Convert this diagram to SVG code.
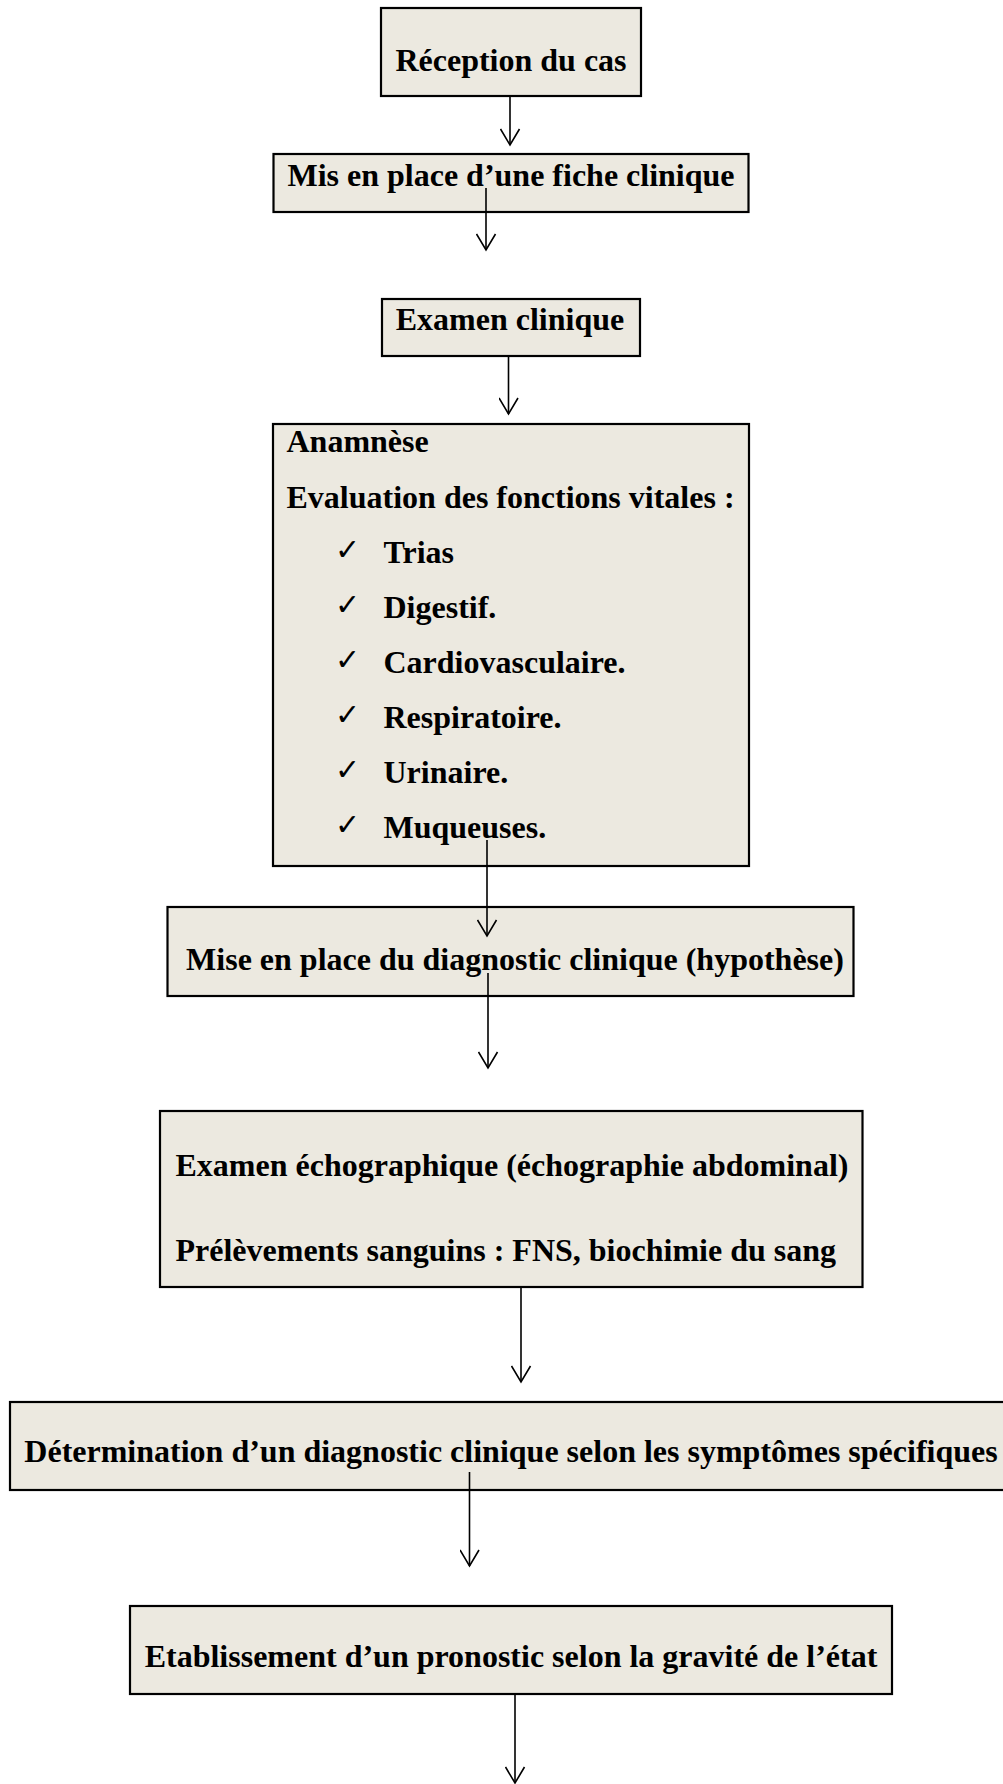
<svg xmlns="http://www.w3.org/2000/svg" width="1003" height="1784" viewBox="0 0 1003 1784">
<defs>
<style>
.box{fill:#ECE9E0;stroke:#000;stroke-width:2.2}
.t{font-family:"Liberation Serif","Times New Roman",serif;font-weight:bold;font-size:32px;fill:#000}
.c{text-anchor:middle}
.chk{font-family:"DejaVu Sans",sans-serif;font-size:30px;fill:#000}
.ln{stroke:#000;stroke-width:1.6;fill:none}
</style>
<marker id="arr" markerWidth="24" markerHeight="20" refX="10" refY="17" orient="0" markerUnits="userSpaceOnUse" viewBox="0 0 24 20">
<path d="M0.5,1 L10,17 L19.5,1" fill="none" stroke="#000" stroke-width="1.6"/>
</marker>
</defs>
<rect width="1003" height="1784" fill="#fff"/>
<g id="n1"><rect class="box" x="381" y="8" width="260" height="88"/><text class="t c" x="511" y="71">Réception du cas</text></g>
<g id="n2"><rect class="box" x="273.5" y="154" width="475" height="58"/><text class="t c" x="511" y="186">Mis en place d’une fiche clinique</text></g>
<g id="n3"><rect class="box" x="382" y="299" width="258" height="57"/><text class="t c" x="510" y="330">Examen clinique</text></g>
<g id="n4"><rect class="box" x="273" y="424" width="476" height="442"/>
<text class="t" x="286.5" y="452">Anamnèse</text>
<text class="t" x="286.5" y="508">Evaluation des fonctions vitales :</text>
<text class="chk" x="335" y="560">✓</text><text class="t" x="383.5" y="563">Trias</text>
<text class="chk" x="335" y="615">✓</text><text class="t" x="383.5" y="618">Digestif.</text>
<text class="chk" x="335" y="670">✓</text><text class="t" x="383.5" y="673">Cardiovasculaire.</text>
<text class="chk" x="335" y="725">✓</text><text class="t" x="383.5" y="728">Respiratoire.</text>
<text class="chk" x="335" y="780">✓</text><text class="t" x="383.5" y="783">Urinaire.</text>
<text class="chk" x="335" y="835">✓</text><text class="t" x="383.5" y="838">Muqueuses.</text>
</g>
<g id="n5"><rect class="box" x="167.5" y="907" width="686" height="89"/><text class="t c" x="515" y="970">Mise en place du diagnostic clinique (hypothèse)</text></g>
<g id="n6"><rect class="box" x="160" y="1111" width="702.5" height="176"/>
<text class="t" x="175.5" y="1176">Examen échographique (échographie abdominal)</text>
<text class="t" x="175.5" y="1261">Prélèvements sanguins : FNS, biochimie du sang</text></g>
<g id="n7"><rect class="box" x="10" y="1402" width="1005" height="88"/><text class="t c" x="511" y="1462">Détermination d’un diagnostic clinique selon les symptômes spécifiques</text></g>
<g id="n8"><rect class="box" x="130" y="1606" width="762" height="88"/><text class="t c" x="511" y="1667">Etablissement d’un pronostic selon la gravité de l’état</text></g>
<g id="connectors">
<line class="ln" x1="510" y1="97" x2="510" y2="145" marker-end="url(#arr)"/>
<line class="ln" x1="486" y1="188" x2="486" y2="250" marker-end="url(#arr)"/>
<line class="ln" x1="508.5" y1="357" x2="508.5" y2="414" marker-end="url(#arr)"/>
<line class="ln" x1="487" y1="840" x2="487" y2="936" marker-end="url(#arr)"/>
<line class="ln" x1="488" y1="973" x2="488" y2="1068" marker-end="url(#arr)"/>
<line class="ln" x1="521" y1="1288" x2="521" y2="1382" marker-end="url(#arr)"/>
<line class="ln" x1="469.5" y1="1472" x2="469.5" y2="1566" marker-end="url(#arr)"/>
<line class="ln" x1="515" y1="1695" x2="515" y2="1783" marker-end="url(#arr)"/>
</g>
</svg>
